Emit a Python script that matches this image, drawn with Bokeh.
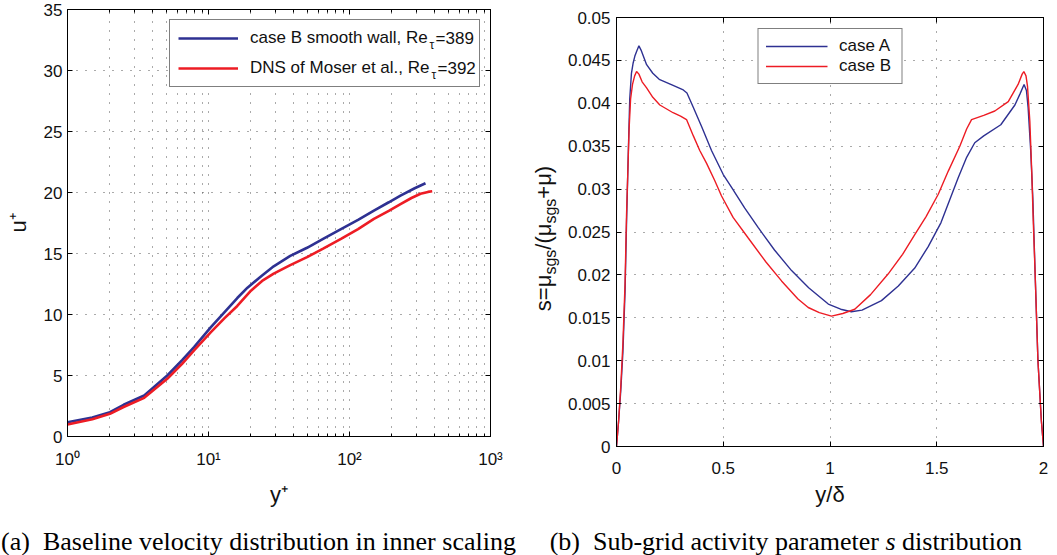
import math
from bokeh.plotting import figure
from bokeh.models import (Range1d, LinearAxis, LogAxis, FixedTicker, Label, BoxAnnotation,
                          Legend, LegendItem, CustomJSTickFormatter)
from bokeh.layouts import row, column
from bokeh.embed import file_html
from bokeh.resources import INLINE

# ---------------- data: panel (a) ----------------
yplus_les = [1, 1.5, 2, 2.5, 3.5, 5.1, 6.5, 7.9, 10.4, 13, 16, 18.9, 24, 29, 38, 50,
             65, 87, 115, 149, 190, 230, 290, 346]
u_les = [1.17, 1.55, 1.99, 2.6, 3.36, 5.0, 6.25, 7.32, 8.96, 10.2, 11.35, 12.2, 13.2,
         13.95, 14.8, 15.47, 16.2, 17.0, 17.75, 18.52, 19.2, 19.75, 20.35, 20.76]
yplus_dns = [1, 1.5, 2, 2.5, 3.5, 5.1, 6.5, 7.9, 10.4, 13, 16, 20, 24, 29, 38, 50,
             65, 87, 115, 149, 190, 230, 275, 319, 360, 386]
u_dns = [0.98, 1.42, 1.86, 2.42, 3.17, 4.73, 5.95, 7.05, 8.55, 9.7, 10.7, 11.95, 12.75,
         13.35, 14.05, 14.7, 15.4, 16.2, 17.0, 17.84, 18.5, 19.05, 19.55, 19.9, 20.05, 20.1]
a_xticks = [1, 10, 100, 1000]
a_xlabels = ["10\u2070", "10\u00b9", "10\u00b2", "10\u00b3"]
a_yticks = [0, 5, 10, 15, 20, 25, 30, 35]
a_legend = [("case B smooth wall, Re", "389"), ("DNS of Moser et al., Re", "392")]

# ---------------- data: panel (b) ----------------
yd_A = [0, 0.01, 0.02, 0.03, 0.04, 0.047, 0.055, 0.062, 0.07, 0.078, 0.086, 0.095, 0.105,
        0.115, 0.141, 0.17, 0.2, 0.265, 0.31, 0.33, 0.36, 0.4, 0.445, 0.5, 0.539, 0.6,
        0.664, 0.74, 0.82, 0.9, 0.992, 1.05, 1.10, 1.15, 1.241, 1.32, 1.397, 1.46, 1.52,
        1.60, 1.64, 1.678, 1.72, 1.8, 1.866, 1.89, 1.909, 1.92, 1.928, 1.94, 1.95, 1.961,
        1.974, 1.99, 2.0]
s_A = [0, 0.003, 0.0065, 0.011, 0.018, 0.026, 0.034, 0.0405, 0.0435, 0.0447, 0.0455,
       0.0461, 0.0467, 0.0462, 0.0445, 0.0435, 0.0428, 0.0421, 0.0416, 0.0412, 0.0395,
       0.0372, 0.0345, 0.0317, 0.0302, 0.0278, 0.0255, 0.0229, 0.0205, 0.0185, 0.0166,
       0.016, 0.0157, 0.0159, 0.017, 0.0187, 0.0208, 0.0233, 0.0261, 0.0313, 0.0337,
       0.0354, 0.0362, 0.0375, 0.0398, 0.0411, 0.0422, 0.0415, 0.0395, 0.0345, 0.029,
       0.020, 0.010, 0.003, 0]
yd_B = [0, 0.01, 0.02, 0.03, 0.04, 0.047, 0.053, 0.059, 0.066, 0.075, 0.085, 0.094, 0.105,
        0.12, 0.141, 0.17, 0.203, 0.265, 0.3, 0.328, 0.36, 0.39, 0.422, 0.46, 0.492, 0.546,
        0.617, 0.7, 0.773, 0.85, 0.898, 0.95, 1.007, 1.06, 1.116, 1.19, 1.272, 1.34, 1.397,
        1.45, 1.507, 1.554, 1.608, 1.64, 1.663, 1.72, 1.772, 1.835, 1.881, 1.9, 1.908,
        1.918, 1.925, 1.936, 1.945, 1.952, 1.961, 1.974, 1.99, 2.0]
s_B = [0, 0.003, 0.007, 0.012, 0.019, 0.027, 0.032, 0.037, 0.0405, 0.0422, 0.0432, 0.0437,
       0.0434, 0.0425, 0.0418, 0.0407, 0.0398, 0.0389, 0.0385, 0.0381, 0.0362, 0.0345,
       0.0330, 0.0310, 0.0292, 0.0267, 0.0243, 0.0215, 0.0193, 0.0172, 0.0162, 0.0156,
       0.0152, 0.0155, 0.0160, 0.0177, 0.0201, 0.0224, 0.0247, 0.0268, 0.0294, 0.0321,
       0.0350, 0.0370, 0.0381, 0.0386, 0.0391, 0.0402, 0.0422, 0.0434, 0.0437, 0.0432,
       0.0420, 0.0379, 0.032, 0.0263, 0.020, 0.010, 0.003, 0]
b_xticks = [0, 0.5, 1, 1.5, 2]
b_xlabels = ["0", "0.5", "1", "1.5", "2"]
b_yticks = [0, 0.005, 0.01, 0.015, 0.02, 0.025, 0.03, 0.035, 0.04, 0.045, 0.05]
b_ylabels = ["0", "0.005", "0.01", "0.015", "0.02", "0.025", "0.03", "0.035", "0.04",
             "0.045", "0.05"]

BLUE = "#2E3192"
RED = "#ED1C24"
SANS = "Liberation Sans"
SERIF = "Liberation Serif"
GRID = "#555555"
TXT = "#111111"
TICK_FS = "17px"
AXLAB_FS = "22px"
ROW_H = 516

# Arial / Liberation Sans advance widths (1/1000 em)
AW = {' ': 278, ',': 278, '.': 278, '=': 584, '/': 278, '(': 333, ')': 333, '+': 584,
      '\u03bc': 576, 'a': 556, 'b': 556, 'c': 500, 'd': 556, 'e': 556, 'f': 278, 'g': 556,
      'h': 556, 'i': 222, 'l': 222, 'm': 833, 'n': 556, 'o': 556, 'r': 333, 's': 500,
      't': 278, 'w': 722, 'B': 667, 'D': 722, 'M': 833, 'N': 722, 'R': 722, 'S': 667}
for dgt in "0123456789":
    AW[dgt] = 556


def tw(text, size):
    return sum(AW.get(ch, 556) for ch in text) * size / 1000.0


def empty_fmt():
    return CustomJSTickFormatter(code="return '';")


def style_axis(ax, fs=TICK_FS):
    ax.major_tick_in = 5
    ax.major_tick_out = 0
    ax.minor_tick_in = 0
    ax.minor_tick_out = 0
    ax.axis_line_color = "black"
    ax.major_tick_line_color = "black"
    ax.minor_tick_line_color = "black"
    ax.major_label_text_font = SANS
    ax.major_label_text_font_size = fs
    ax.major_label_text_color = TXT
    ax.axis_label_text_font = SANS
    ax.axis_label_text_font_style = "normal"
    ax.axis_label_text_color = TXT
    ax.axis_label_text_font_size = AXLAB_FS


def helper_fig(w, h):
    f = figure(width=w, height=h, x_range=Range1d(0, w), y_range=Range1d(0, h),
               x_axis_location=None, y_axis_location=None, min_border=0, title=None,
               output_backend="svg", toolbar_location=None)
    f.grid.visible = False
    f.outline_line_color = None
    f.background_fill_color = "white"
    f.border_fill_color = "white"
    return f


# =================== panel (a) ===================
FW1, FH1 = 423, 427
p1 = figure(frame_width=FW1, frame_height=FH1, x_axis_type="log", title=None,
            x_range=Range1d(1, 1000), y_range=Range1d(0, 35),
            output_backend="svg", toolbar_location=None,
            min_border_left=67, min_border_right=38, min_border_top=9,
            min_border_bottom=ROW_H - 9 - FH1)
p1.background_fill_color = "white"
p1.border_fill_color = "white"
p1.outline_line_color = "black"

a_minor = [m * 10 ** k for k in range(3) for m in range(2, 10)]
p1.xaxis.ticker = FixedTicker(ticks=a_xticks, minor_ticks=a_minor)
p1.xaxis.major_label_overrides = {t: l for t, l in zip(a_xticks, a_xlabels)}
p1.yaxis.ticker = FixedTicker(ticks=a_yticks)
for ax in p1.xaxis + p1.yaxis:
    style_axis(ax)
p1.xaxis.minor_tick_in = 3
p1.xaxis.major_label_standoff = 13
p1.xaxis.axis_label = "y\u207a"
p1.xaxis.axis_label_standoff = 10
p1.yaxis.axis_label = "u\u207a"
p1.yaxis.axis_label_standoff = 10

top1 = LogAxis(ticker=FixedTicker(ticks=a_xticks, minor_ticks=a_minor),
               formatter=empty_fmt(), major_label_standoff=0)
right1 = LinearAxis(ticker=FixedTicker(ticks=a_yticks), formatter=empty_fmt(),
                    major_label_standoff=0)
for ax in (top1, right1):
    style_axis(ax, "0px")
top1.minor_tick_in = 3
p1.add_layout(top1, "above")
p1.add_layout(right1, "right")

p1.xgrid.ticker = FixedTicker(ticks=a_xticks, minor_ticks=a_minor)
p1.grid.grid_line_color = GRID
p1.grid.grid_line_dash = "1 8"
p1.grid.grid_line_width = 1
p1.xgrid.minor_grid_line_color = GRID
p1.xgrid.minor_grid_line_dash = "1 8"

# white backing for the legend box (pixel box inside the frame -> data units)
LB = dict(left=103.7, right=413.0, top=10.3, bottom=77.7)


def fx(px):
    return 10 ** (3.0 * px / FW1)


def fy(py):
    return 35.0 - 35.0 * py / FH1


p1.add_layout(BoxAnnotation(left=fx(LB["left"]), right=fx(LB["right"]),
                            top=fy(LB["top"]), bottom=fy(LB["bottom"]),
                            fill_color="white", fill_alpha=1, line_color=None,
                            level="underlay"))

r_les = p1.line(yplus_les, u_les, line_color=BLUE, line_width=2.6)
r_dns = p1.line(yplus_dns, u_dns, line_color=RED, line_width=2.6)

leg1 = Legend(items=[LegendItem(label=a_legend[0][0], renderers=[r_les]),
                     LegendItem(label=a_legend[1][0], renderers=[r_dns])],
              location="top_right", margin=10, padding=8, spacing=10,
              label_height=20, glyph_height=20, glyph_width=60, label_standoff=12,
              label_width=221, border_line_color="black", border_line_width=1,
              background_fill_alpha=0,
              label_text_font=SANS, label_text_font_size="17px",
              label_text_color=TXT)
p1.add_layout(leg1)

for (main, val), yo in zip(a_legend, (-29, -59)):
    w = tw(main, 17)
    p1.add_layout(Label(x=1, y=35, x_offset=184 + w + 0.5, y_offset=yo - 6,
                        text="\u03c4", text_font=SANS, text_font_size="12px",
                        text_color=TXT, text_baseline="middle"))
    p1.add_layout(Label(x=1, y=35, x_offset=184 + w + 6.5, y_offset=yo, text="=" + val,
                        text_font=SANS, text_font_size="17px", text_color=TXT,
                        text_baseline="middle"))

# =================== y-label strip for panel (b) ===================
ylab = helper_fig(36, ROW_H)
M, S = 22, 16
pieces = [("s=\u03bc", M, False), ("sgs", S, True), ("/(\u03bc", M, False),
          ("sgs", S, True), ("+\u03bc)", M, False)]
L = sum(tw(t, sz) for t, sz, _ in pieces)
ypos = (ROW_H - 238.0) - L / 2
for t, sz, sub in pieces:
    ylab.add_layout(Label(x=22 if sub else 15, y=ypos, angle=math.pi / 2, text=t,
                          text_font=SANS, text_font_size=f"{sz}px", text_color=TXT,
                          text_align="left", text_baseline="alphabetic"))
    ypos += tw(t, sz)

# =================== panel (b) ===================
FH2 = 429
p2 = figure(frame_width=427, frame_height=FH2, title=None,
            x_range=Range1d(0, 2), y_range=Range1d(0, 0.05),
            output_backend="svg", toolbar_location=None,
            min_border_left=51, min_border_right=15, min_border_top=17,
            min_border_bottom=ROW_H - 17 - FH2)
p2.background_fill_color = "white"
p2.border_fill_color = "white"
p2.outline_line_color = "black"

p2.xaxis.ticker = FixedTicker(ticks=b_xticks)
p2.xaxis.major_label_overrides = {t: l for t, l in zip(b_xticks, b_xlabels)}
p2.yaxis.ticker = FixedTicker(ticks=b_yticks)
p2.yaxis.major_label_overrides = {t: l for t, l in zip(b_yticks, b_ylabels)}
for ax in p2.xaxis + p2.yaxis:
    style_axis(ax)
p2.xaxis.major_label_standoff = 15
p2.xaxis.axis_label = "y/\u03b4"
p2.xaxis.axis_label_standoff = 5
p2.yaxis.major_label_standoff = 6

top2 = LinearAxis(ticker=FixedTicker(ticks=b_xticks), formatter=empty_fmt(),
                  major_label_standoff=0)
right2 = LinearAxis(ticker=FixedTicker(ticks=b_yticks), formatter=empty_fmt(),
                    major_label_standoff=0)
for ax in (top2, right2):
    style_axis(ax, "0px")
p2.add_layout(top2, "above")
p2.add_layout(right2, "right")

p2.grid.grid_line_color = GRID
p2.grid.grid_line_dash = "1 8"
p2.grid.grid_line_width = 1

r_A = p2.line(yd_A, s_A, line_color=BLUE, line_width=1.4)
r_B = p2.line(yd_B, s_B, line_color=RED, line_width=1.4)

leg2 = Legend(items=[LegendItem(label="case A", renderers=[r_A]),
                     LegendItem(label="case B", renderers=[r_B])],
              location="top", margin=11, padding=7, spacing=0,
              label_height=18, glyph_height=18, glyph_width=62, label_standoff=12,
              label_width=55, border_line_color="black", border_line_width=1,
              background_fill_color="white", background_fill_alpha=1,
              label_text_font=SANS, label_text_font_size="17px",
              label_text_color=TXT)
p2.add_layout(leg2)

# =================== captions ===================
CAP_H = 555 - ROW_H
cap = helper_fig(1057, CAP_H)
CAP_Y = 14
cap.add_layout(Label(x=258, y=CAP_Y,
                     text="(a)\u00a0\u00a0Baseline velocity distribution in inner scaling",
                     text_font=SERIF, text_font_size="26px", text_color="black",
                     text_align="center", text_baseline="alphabetic"))
cap.add_layout(Label(x=878.4, y=CAP_Y, text="(b)\u00a0\u00a0Sub-grid activity parameter",
                     text_font=SERIF, text_font_size="26px", text_color="black",
                     text_align="right", text_baseline="alphabetic"))
cap.add_layout(Label(x=890, y=CAP_Y, text="s", text_font=SERIF, text_font_size="26px",
                     text_font_style="italic", text_color="black",
                     text_align="center", text_baseline="alphabetic"))
cap.add_layout(Label(x=901.6, y=CAP_Y, text="distribution", text_font=SERIF,
                     text_font_size="26px", text_color="black",
                     text_align="left", text_baseline="alphabetic"))

# each panel in its own column so the frames are not aligned to each other
top_row = row(column(p1), column(ylab), column(p2), spacing=0)
layout = column(top_row, cap, spacing=0)
open("out.html", "w").write(file_html(layout, INLINE))
